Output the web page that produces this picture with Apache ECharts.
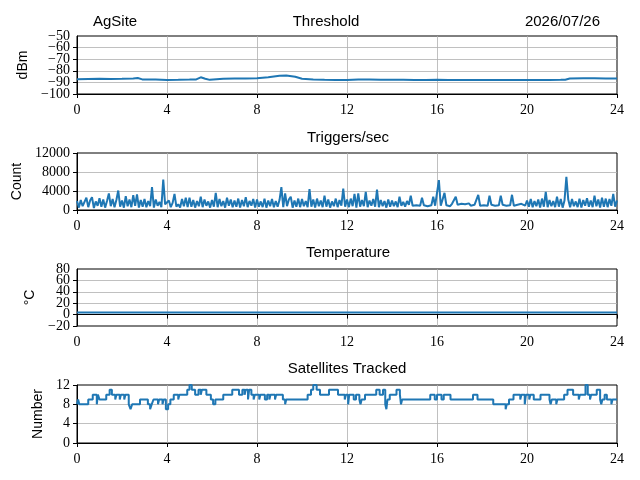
<!DOCTYPE html>
<html>
<head>
<meta charset="utf-8">
<script src="https://cdn.jsdelivr.net/npm/echarts@6/dist/echarts.min.js"></script>
<style>
  html, body { margin: 0; padding: 0; background: #fff; }
  #chart { width: 640px; height: 480px; }
</style>
</head>
<body>
<div id="chart"></div>
<script>
const siteName = "AgSite";
const dateLabel = "2026/07/26";
const panelTitles = ["Threshold", "Triggers/sec", "Temperature", "Satellites Tracked"];
const axisNames = ["dBm", "Count", "\u00b0C", "Number"];

// threshold, dBm
const thresholdHours = [0, 0.5, 1, 1.5, 2, 2.5, 2.7, 2.9, 3.5, 4, 4.5, 5, 5.3, 5.5, 5.7, 5.9, 6.5, 7, 7.5, 8, 8.5, 9, 9.3, 9.7,
  10, 10.5, 11, 11.5, 12, 12.5, 13, 13.5, 14, 14.5, 15, 15.5, 16, 16.5, 17, 17.5, 18, 18.5, 19, 19.5, 20, 20.5, 21, 21.5,
  21.7, 21.9, 22.5, 23, 23.5, 24];
const thresholdValues = [-87.2, -87.0, -86.8, -87.0, -86.9, -86.7, -86.2, -87.4, -87.6, -87.9, -87.8, -87.6, -87.4, -85.6, -86.8, -87.8, -86.9, -86.6, -86.7, -86.5, -85.6, -84.2, -84.0, -85.2,
  -86.8, -87.4, -87.8, -87.9, -88.0, -87.6, -87.6, -87.7, -87.7, -87.8, -88.0, -88.0, -87.8, -88.0, -88.0, -88.0, -88.0, -88.0, -88.0, -88.0, -88.0, -87.9, -87.9, -87.8,
  -87.7, -86.7, -86.5, -86.5, -86.6, -86.6];

// triggers per second, one value every 5 minutes (one row per hour)
const triggerStepMinutes = 5;
const triggerValues = [
  1900, 500, 2100, 800, 1700, 2600, 600, 2000, 2700, 400, 1800, 900,
  2500, 700, 2200, 500, 1900, 3500, 800, 2300, 600, 2100, 4100, 700,
  2000, 500, 2900, 800, 2200, 600, 3100, 900, 3300, 500, 2100, 700,
  2300, 600, 1900, 800, 4800, 500, 2200, 900, 1700, 600, 6400, 1200,
  800, 2000, 600, 1500, 3400, 700, 1200, 500, 2300, 800, 2600, 600,
  2600, 700, 2100, 500, 1900, 800, 2800, 600, 2200, 900, 1800, 500,
  2100, 700, 3600, 600, 2300, 800, 1900, 500, 2600, 900, 2200, 600,
  2000, 700, 2400, 500, 2100, 800, 2700, 600, 1900, 900, 2300, 500,
  2200, 700, 1800, 600, 2400, 500, 2000, 800, 2300, 600, 1900, 700,
  2100, 4800, 600, 3500, 800, 2200, 2800, 500, 2000, 700, 2400, 600,
  2300, 800, 1900, 600, 4400, 700, 2200, 500, 2400, 800, 2000, 600,
  3000, 700, 2200, 500, 1800, 800, 2400, 600, 2100, 900, 4500, 700,
  2200, 600, 2400, 800, 3400, 500, 3500, 700, 2100, 800, 3800, 600,
  2000, 900, 2300, 700, 4300, 600, 2100, 800, 1900, 500, 2200, 700,
  2000, 800, 1800, 600, 2800, 900, 1700, 700, 1900, 1100, 3000, 900,
  1300, 1000, 1200, 900, 2600, 1000, 1300, 800, 1200, 1000, 2800, 900,
  1200, 6300, 900, 1300, 3600, 1000, 1200, 800, 1300, 1000, 2800, 1100,
  1000, 1300, 900, 1200, 1000, 1400, 900, 1200, 1100, 1000, 3200, 900,
  1300, 1000, 1200, 900, 3000, 1100, 1300, 900, 1200, 1000, 3000, 1100,
  1200, 900, 1300, 1000, 3200, 900, 1200, 1100, 1000, 1300, 1100, 900,
  2000, 700, 2300, 600, 1900, 800, 2200, 500, 2400, 700, 3800, 600,
  2100, 800, 1900, 600, 2800, 700, 2300, 500, 2000, 7000, 2200, 600,
  2300, 800, 1800, 600, 2400, 500, 2100, 900, 2500, 700, 2000, 600,
  3000, 800, 2200, 500, 2600, 700, 2400, 600, 2300, 900, 3400, 700,
  2000
];

// temperature, degrees C
const temperatureHours = [0, 6, 12, 18, 24];
const temperatureValues = [3.5, 3.5, 3.5, 3.5, 3.5];

// satellites tracked, value holds from each hour until the next
const satelliteHours = [0, 0.05, 0.1, 0.5, 0.7, 0.88, 0.93, 1.0, 1.3, 1.45, 1.55, 1.7, 1.75, 1.9, 1.95, 2.1, 2.15, 2.3, 2.38, 2.45,
  2.8, 3.15, 3.25, 3.32, 3.4, 3.6, 3.65, 3.8, 3.85, 3.95, 4.05, 4.15, 4.3, 4.5, 4.55, 4.9, 5.0, 5.1, 5.25, 5.4,
  5.5, 5.55, 5.75, 5.95, 6.05, 6.15, 6.5, 6.9, 7.2, 7.35, 7.45, 7.5, 7.6, 7.65, 7.75, 7.85, 7.9, 8.1, 8.15, 8.35,
  8.45, 8.55, 8.6, 8.8, 8.85, 9.15, 9.25, 9.3, 10.25, 10.4, 10.5, 10.65, 10.8, 11.2, 11.6, 11.9, 11.95, 12.05, 12.1, 12.3,
  12.4, 12.55, 12.6, 12.65, 12.8, 13.3, 13.45, 13.6, 13.7, 13.75, 13.8, 13.9, 14.2, 14.35, 14.4, 14.45, 15.7, 15.9, 16.0, 16.2,
  16.3, 16.6, 17.6, 17.8, 18.5, 19.05, 19.1, 19.2, 19.4, 19.7, 19.75, 19.9, 19.95, 20.1, 20.15, 20.3, 20.6, 21.0, 21.05, 21.1,
  21.3, 21.35, 21.65, 21.8, 22.05, 22.3, 22.35, 22.6, 22.7, 22.8, 22.85, 23.1, 23.25, 23.3, 23.35, 23.45, 23.55, 23.75, 23.8, 24];
const satelliteValues = [8, 9, 8, 9, 10, 8, 10, 9, 10, 11, 10, 9, 10, 9, 10, 9, 10, 8, 7, 8,
  9, 8, 7, 8, 9, 8, 9, 8, 9, 7, 8, 9, 10, 9, 10, 11, 12, 11, 10, 11,
  10, 11, 10, 9, 8, 9, 10, 11, 10, 11, 10, 11, 9, 11, 10, 9, 10, 9, 10, 9,
  10, 9, 10, 9, 10, 9, 8, 9, 10, 11, 12, 11, 10, 11, 10, 9, 10, 8, 10, 9,
  10, 9, 8, 9, 10, 11, 10, 11, 8, 7, 9, 10, 11, 10, 8, 9, 10, 9, 10, 9,
  10, 9, 10, 9, 8, 7, 8, 9, 10, 9, 10, 8, 10, 9, 10, 9, 10, 9, 8, 9,
  8, 9, 10, 11, 10, 9, 10, 12, 10, 9, 10, 11, 9, 8, 9, 10, 9, 8, 9, 9];

const yRanges = [
  { min: -100, max: -50, interval: 10 },
  { min: 0, max: 12000, interval: 4000 },
  { min: -20, max: 80, interval: 20 },
  { min: 0, max: 12, interval: 4 }
];
// panels whose ticks sit too close for ECharts to keep every label:
// their labels are split over two stacked axes with the same scale
const crowdedPanels = [0, 2];

const gridTops = [36, 153, 269, 385];
const gridHeights = [58, 57, 57, 58];
const nameGaps = [46, 46, 40, 28];
const titleX = [326, 348, 348, 347];
const titleY = [22, 138, 253, 369];

const lineColor = "#1f77b4";
const tickFont = "Liberation Serif";
const textFont = "Liberation Sans";

function pairs(xs, ys) {
  return xs.map((x, i) => [x, ys[i]]);
}
const triggerData = triggerValues.map((v, i) => [i * triggerStepMinutes / 60, v]);
const minus = (v) => String(v).replace("-", "\u2212");

const chart = echarts.init(document.getElementById("chart"));

const grids = gridTops.map((top, i) => ({
  left: 77, width: 540, top, height: gridHeights[i],
  show: true, borderColor: "#000", borderWidth: 1, backgroundColor: "transparent"
}));

const gridLine = { show: true, showMinLine: false, showMaxLine: false, lineStyle: { color: "#b0b0b0", width: 0.8 } };
const tickLabelStyle = { fontFamily: tickFont, fontSize: 14, color: "#000" };

const xAxes = gridTops.map((_, i) => ({
  type: "value", gridIndex: i, min: 0, max: 24, interval: 4,
  axisLine: { show: true, lineStyle: { color: "#000", width: 1 } },
  axisTick: { show: true, length: 4, lineStyle: { color: "#000" } },
  axisLabel: Object.assign({ margin: 9, showMinLabel: true, showMaxLabel: true }, tickLabelStyle),
  splitLine: gridLine
}));

const yAxes = yRanges.map((r, i) => {
  const crowded = crowdedPanels.includes(i);
  const stepOf = (v) => Math.round((v - r.min) / r.interval);
  return {
    type: "value", gridIndex: i, position: "left", min: r.min, max: r.max, interval: r.interval,
    name: axisNames[i], nameLocation: "middle", nameRotate: 90, nameGap: nameGaps[i],
    nameTextStyle: { fontFamily: textFont, fontSize: 14, color: "#000" },
    axisLine: { show: true, lineStyle: { color: "#000", width: 1 } },
    axisTick: { show: true, length: 4, lineStyle: { color: "#000" } },
    axisLabel: Object.assign({
      margin: 7, showMinLabel: true, showMaxLabel: !crowded,
      formatter: crowded ? (v) => (stepOf(v) % 2 === 0 ? minus(v) : "") : minus
    }, tickLabelStyle),
    splitLine: gridLine
  };
});
crowdedPanels.forEach((i) => {
  const r = yRanges[i];
  const stepOf = (v) => Math.round((v - r.min) / r.interval);
  yAxes.push({
    type: "value", gridIndex: i, position: "left", offset: 0, min: r.min, max: r.max, interval: r.interval,
    axisLine: { show: false }, axisTick: { show: false }, splitLine: { show: false },
    axisLabel: Object.assign({
      margin: 7, showMinLabel: false, showMaxLabel: true,
      formatter: (v) => (stepOf(v) % 2 === 1 ? minus(v) : "")
    }, tickLabelStyle)
  });
});

function lineSeries(i, data, width, extra) {
  return Object.assign({
    type: "line", xAxisIndex: i, yAxisIndex: i, data,
    showSymbol: false, symbol: "none",
    lineStyle: { color: lineColor, width },
    itemStyle: { color: lineColor }
  }, extra || {});
}

const titles = panelTitles.map((t, i) => ({
  type: "text", x: titleX[i], y: titleY[i],
  style: { text: t, fontFamily: textFont, fontSize: 15, fill: "#000", textAlign: "center", textVerticalAlign: "middle" }
}));
titles.push({
  type: "text", x: 93, y: titleY[0],
  style: { text: siteName, fontFamily: textFont, fontSize: 15, fill: "#000", textAlign: "left", textVerticalAlign: "middle" }
});
titles.push({
  type: "text", x: 600, y: titleY[0],
  style: { text: dateLabel, fontFamily: textFont, fontSize: 15, fill: "#000", textAlign: "right", textVerticalAlign: "middle" }
});

chart.setOption({
  animation: false,
  backgroundColor: "#fff",
  grid: grids,
  xAxis: xAxes,
  yAxis: yAxes,
  graphic: titles,
  series: [
    lineSeries(0, pairs(thresholdHours, thresholdValues), 2),
    lineSeries(1, triggerData, 2),
    lineSeries(2, pairs(temperatureHours, temperatureValues), 2),
    lineSeries(3, pairs(satelliteHours, satelliteValues), 2, { step: "end" })
  ]
});
</script>
</body>
</html>
